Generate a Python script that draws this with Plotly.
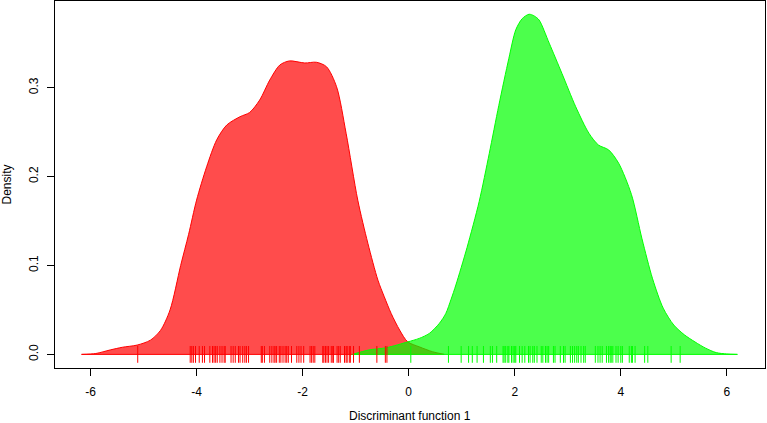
import plotly.graph_objects as go

# Density curve of group 1 (red)
red_x = [-6.17, -5.9, -5.63, -5.4, -5.12, -4.87, -4.68, -4.5, -4.3, -4.15, -4.0, -3.81, -3.62,
         -3.43, -3.18, -3.0, -2.81, -2.62, -2.43, -2.25, -1.96, -1.74, -1.55, -1.36, -1.18,
         -0.96, -0.77, -0.58, -0.46, -0.33, -0.17, -0.02, 0.2, 0.45, 0.67]
red_y = [0.0, 0.001, 0.005, 0.008, 0.0105, 0.016, 0.027, 0.05, 0.1, 0.135, 0.1735, 0.211, 0.2413,
         0.258, 0.2673, 0.272, 0.286, 0.3085, 0.3254, 0.330, 0.3277, 0.3285, 0.3235, 0.301, 0.2486,
         0.1735, 0.125, 0.0835, 0.0648, 0.046, 0.0273, 0.0142, 0.0085, 0.003, 0.0]

# Density curve of group 2 (green)
green_x = [-1.06, -0.75, -0.42, -0.02, 0.2, 0.39, 0.58, 0.7, 0.8, 0.89, 1.1, 1.33, 1.52, 1.7, 1.89,
           2.02, 2.14, 2.27, 2.37, 2.46, 2.65, 2.89, 3.15, 3.4, 3.58, 3.77, 3.96, 4.2, 4.4, 4.6,
           4.8, 5.0, 5.2, 5.4, 5.6, 5.8, 6.0, 6.2]
green_y = [0.0, 0.005, 0.0075, 0.014, 0.018, 0.0236, 0.035, 0.046, 0.062, 0.078, 0.12, 0.172,
           0.226, 0.28, 0.333, 0.365, 0.3775, 0.3825, 0.3805, 0.376, 0.35, 0.316, 0.2785, 0.2486,
           0.2354, 0.23, 0.215, 0.18, 0.13, 0.085, 0.052, 0.033, 0.022, 0.014, 0.007, 0.002,
           0.0005, 0.0]

# Rug (individual scores)
red_rug = [-5.11, -4.12, -4.09, -4.06, -4.02, -3.95, -3.89, -3.85, -3.75, -3.70, -3.67, -3.64,
           -3.61, -3.56, -3.52, -3.48, -3.46, -3.35, -3.31, -3.27, -3.21, -3.18, -3.13, -3.09,
           -3.06, -3.02, -2.78, -2.76, -2.72, -2.62, -2.58, -2.54, -2.52, -2.49, -2.44, -2.41,
           -2.37, -2.33, -2.30, -2.27, -2.21, -2.11, -2.07, -2.03, -1.98, -1.86, -1.83, -1.80,
           -1.77, -1.62, -1.60, -1.57, -1.54, -1.51, -1.46, -1.43, -1.42, -1.35, -1.32, -1.29,
           -1.21, -1.18, -1.16, -1.12, -1.10, -1.04, -0.93, -0.60, -0.44, -0.41]
green_rug = [0.04, 0.75, 0.99, 1.13, 1.20, 1.29, 1.41, 1.54, 1.58, 1.66, 1.78, 1.80, 1.83, 1.87,
             1.89, 1.94, 1.97, 2.00, 2.02, 2.09, 2.14, 2.19, 2.26, 2.29, 2.34, 2.37, 2.42, 2.50,
             2.53, 2.58, 2.61, 2.64, 2.73, 2.76, 2.86, 2.92, 2.95, 3.05, 3.09, 3.13, 3.17, 3.20,
             3.25, 3.30, 3.33, 3.52, 3.57, 3.61, 3.65, 3.73, 3.77, 3.80, 3.82, 3.85, 3.91, 3.95,
             4.00, 4.03, 4.16, 4.20, 4.22, 4.27, 4.45, 4.51, 4.95, 5.12]

x_ticks = [-6, -4, -2, 0, 2, 4, 6]
x_tick_labels = ["-6", "-4", "-2", "0", "2", "4", "6"]
y_ticks = [0.0, 0.1, 0.2, 0.3]
y_tick_labels = ["0.0", "0.1", "0.2", "0.3"]

FONT = "Liberation Sans, Arial, sans-serif"

fig = go.Figure()

for xs, ys, fillc, linec in [(red_x, red_y, "rgba(255,0,0,0.7)", "#ff0000"),
                             (green_x, green_y, "rgba(0,255,0,0.7)", "#00ff00")]:
    fig.add_trace(go.Scatter(x=xs, y=ys, mode="lines", fill="tozeroy", fillcolor=fillc,
                             line=dict(color=linec, width=1, shape="spline", smoothing=0.8),
                             hoverinfo="skip", showlegend=False))
    fig.add_trace(go.Scatter(x=[xs[0], xs[-1]], y=[0, 0], mode="lines",
                             line=dict(color=linec, width=1), hoverinfo="skip", showlegend=False))

for rug, c in [(red_rug, "#ff0000"), (green_rug, "#00ff00")]:
    fig.add_trace(go.Scatter(x=rug, y=[0] * len(rug), mode="markers",
                             marker=dict(symbol="line-ns", size=12,
                                         line=dict(color=c, width=1)),
                             hoverinfo="skip", showlegend=False))

fig.update_layout(
    width=767, height=423,
    margin=dict(l=55, r=2, t=1, b=55),
    paper_bgcolor="white", plot_bgcolor="white",
    font=dict(family=FONT, size=12, color="black"),
    xaxis=dict(range=[-6.67, 6.72], tickvals=x_ticks, ticktext=x_tick_labels,
               ticks="outside", ticklen=7,
               tickcolor="black", showgrid=False, zeroline=False, showline=True,
               linecolor="black", linewidth=1, mirror=True, ticklabelstandoff=6,
               automargin=False),
    yaxis=dict(range=[-0.0153, 0.3974], tickvals=y_ticks, ticktext=y_tick_labels,
               tickangle=-90, ticks="outside", ticklen=7, tickcolor="black",
               showgrid=False, zeroline=False, showline=True, linecolor="black",
               linewidth=1, mirror=True, ticklabelstandoff=4, automargin=False),
    annotations=[
        dict(text="Discriminant function 1", xref="paper", yref="paper", x=0.5, y=0,
             yshift=-48, showarrow=False, xanchor="center", yanchor="middle",
             font=dict(family=FONT, size=12)),
        dict(text="Density", xref="paper", yref="paper", x=0, y=0.5, xshift=-49,
             showarrow=False, textangle=-90, xanchor="center", yanchor="middle",
             font=dict(family=FONT, size=12)),
    ],
)

fig.write_html("out.html", config={"displayModeBar": False},
               post_script="document.body.style.margin='0';document.body.style.padding='0';")
